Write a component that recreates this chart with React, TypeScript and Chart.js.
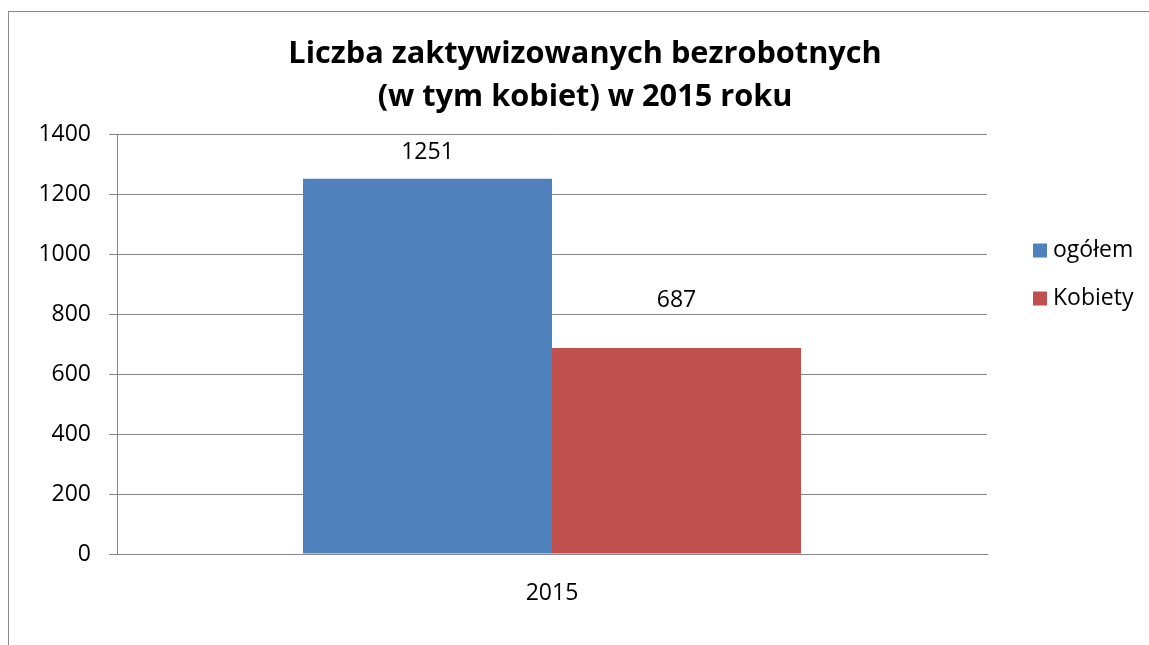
import React, { useEffect, useRef } from 'react';
import { Chart, registerables } from 'chart.js';

Chart.register(...registerables);

// ---- data ----
const categories: string[] = ['2015'];
const seriesNames: string[] = ['ogółem', 'Kobiety'];
const ogolemValues: number[] = [1251];
const kobietyValues: number[] = [687];
const seriesColors: string[] = ['#4F81BD', '#C0504D'];
const titleLines: string[] = ['Liczba zaktywizowanych bezrobotnych', '(w tym kobiet) w 2015 roku'];
const yMin = 0;
const yMax = 1400;
const yStep = 200;

const FONT = "'Open Sans', 'DejaVu Sans', sans-serif";
const GRID = '#868686';

const valueLabelsPlugin = {
  id: 'valueLabels',
  afterDatasetsDraw(chart: any, _args: any, opts: any) {
    const ctx = chart.ctx;
    ctx.save();
    ctx.font = `${opts.size}px ${FONT}`;
    ctx.fillStyle = '#000';
    ctx.textAlign = 'center';
    ctx.textBaseline = 'alphabetic';
    chart.data.datasets.forEach((ds: any, i: number) => {
      const meta = chart.getDatasetMeta(i);
      meta.data.forEach((bar: any, j: number) => {
        ctx.fillText(String(ds.data[j]), bar.x, bar.y - opts.offsets[i]);
      });
    });
    ctx.restore();
  },
};

const sideLegendPlugin = {
  id: 'sideLegend',
  afterDraw(chart: any, _args: any, opts: any) {
    const ctx = chart.ctx;
    ctx.save();
    ctx.font = `${opts.size}px ${FONT}`;
    ctx.textAlign = 'left';
    ctx.textBaseline = 'middle';
    chart.data.datasets.forEach((ds: any, i: number) => {
      const cy = opts.y + i * opts.step;
      ctx.fillStyle = ds.backgroundColor;
      ctx.fillRect(opts.x, cy - opts.box / 2, opts.box, opts.box);
      ctx.fillStyle = '#000';
      ctx.fillText(ds.label, opts.x + opts.box + opts.gap, cy);
    });
    ctx.restore();
  },
};

export default function App() {
  const canvasRef = useRef<HTMLCanvasElement | null>(null);

  useEffect(() => {
    if (!canvasRef.current) return;
    const chart = new Chart(canvasRef.current, {
      type: 'bar',
      data: {
        labels: categories,
        datasets: [
          { label: seriesNames[0], data: ogolemValues, backgroundColor: seriesColors[0], barPercentage: 1, categoryPercentage: 0.5724 },
          { label: seriesNames[1], data: kobietyValues, backgroundColor: seriesColors[1], barPercentage: 1, categoryPercentage: 0.5724 },
        ],
      },
      options: {
        responsive: false,
        animation: false,
        layout: { padding: { left: 12, top: 0, right: 0, bottom: 0 } },
        plugins: {
          legend: { display: false },
          tooltip: { enabled: false },
          title: {
            display: true,
            text: titleLines,
            color: '#000',
            font: { family: FONT, size: 30.7, weight: 'bold', lineHeight: 43 / 30.7 },
            padding: { top: 21, bottom: 15 },
          },
          valueLabels: { size: 23, offsets: [20, 41] },
          sideLegend: { x: 1024, y: 238.5, step: 48, box: 14, gap: 6, size: 23 },
        } as any,
        scales: {
          x: {
            grid: { display: false, drawTicks: false },
            border: { display: true, color: GRID },
            ticks: { color: '#000', font: { family: FONT, size: 23 }, padding: 26 },
            afterFit(scale: any) { scale.height = 91; },
          },
          y: {
            min: yMin,
            max: yMax,
            ticks: {
              stepSize: yStep,
              color: '#000',
              font: { family: FONT, size: 23 },
              padding: 18,
              callback: (v: any) => String(v),
            },
            grid: { color: GRID, tickLength: 8, lineWidth: 1 },
            border: { display: true, color: GRID },
            afterFit(scale: any) { scale.width = 96; },
          },
          yRight: {
            type: 'linear',
            position: 'right',
            display: true,
            grid: { display: false, drawTicks: false },
            ticks: { display: false },
            border: { display: false },
            afterFit(scale: any) { scale.width = 162; },
          },
        },
      } as any,
      plugins: [valueLabelsPlugin, sideLegendPlugin],
    });
    return () => chart.destroy();
  }, []);

  return (
    <div
      style={{
        position: 'absolute',
        left: 8,
        top: 11,
        width: 1141,
        height: 634,
        boxSizing: 'border-box',
        borderTop: '1px solid #898989',
        borderLeft: '1px solid #898989',
        overflow: 'hidden',
        background: '#fff',
      }}
    >
      <canvas ref={canvasRef} width={1140} height={633} style={{ display: 'block', width: 1140, height: 633 }} />
    </div>
  );
}
